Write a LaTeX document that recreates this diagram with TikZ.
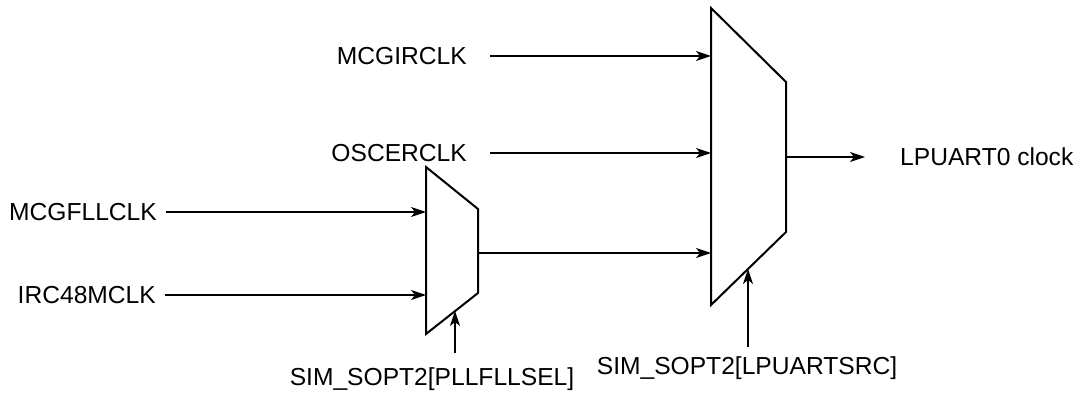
\documentclass[tikz,border=0pt]{standalone}
\usepackage{fontspec}
\setmainfont{Liberation Sans}
\usetikzlibrary{arrows.meta}

\begin{document}
\begin{tikzpicture}[
  x=1pt, y=-1pt,
  rotulo/.style={font=\fontsize{24.6}{28}\selectfont, inner sep=0pt,
                 text height=17.5pt, text depth=0pt},
  mux/.style={draw, line width=2pt, line join=miter},
  seta/.style={-{Stealth[length=15pt,width=10pt,inset=4pt]}, line width=1.5pt}
]
  \useasboundingbox (0,0) rectangle (1077,393);

  \draw[mux] (426,167) -- (478,209) -- (478,293) -- (426,334) -- cycle;
  \coordinate (pin1) at (426,212);
  \coordinate (pin2) at (426,295);
  \coordinate (pout) at (478,253);
  \coordinate (psel) at (455,311);

  \draw[mux] (711,8) -- (786,82) -- (786,232) -- (711,305) -- cycle;
  \coordinate (gin1) at (711,56);
  \coordinate (gin2) at (711,153);
  \coordinate (gin3) at (711,253);
  \coordinate (gout) at (786,157);
  \coordinate (gsel) at (748,269);

  \node[rotulo, anchor=east] (mcgirclk) at (467,56) {MCGIRCLK};
  \node[rotulo, anchor=east] (oscerclk) at (467,153) {OSCERCLK};
  \node[rotulo, anchor=east] (mcgfllclk) at (157,212) {MCGFLLCLK};
  \node[rotulo, anchor=east] (irc48mclk) at (156,295) {IRC48MCLK};
  \node[rotulo, anchor=west] (lpuart) at (900,157) {LPUART0 clock};
  \node[rotulo, anchor=north] (pllfllsel) at (432,368) {SIM\_SOPT2[PLLFLLSEL]};
  \node[rotulo, anchor=north] (lpuartsrc) at (747,357) {SIM\_SOPT2[LPUARTSRC]};

  \draw[seta, shorten <=23pt] (mcgirclk.east) -- (gin1);
  \draw[seta, shorten <=23pt] (oscerclk.east) -- (gin2);
  \draw[seta, shorten <=9pt] (mcgfllclk.east) -- (pin1);
  \draw[seta, shorten <=9pt] (irc48mclk.east) -- (pin2);
  \draw[seta] (pout) -- (gin3);
  \draw[seta, shorten >=35pt] (gout) -- (lpuart.west);
  \draw[seta, shorten <=15pt] (pllfllsel.north -| psel) -- (psel);
  \draw[seta, shorten <=10pt] (lpuartsrc.north -| gsel) -- (gsel);
\end{tikzpicture}
\end{document}
